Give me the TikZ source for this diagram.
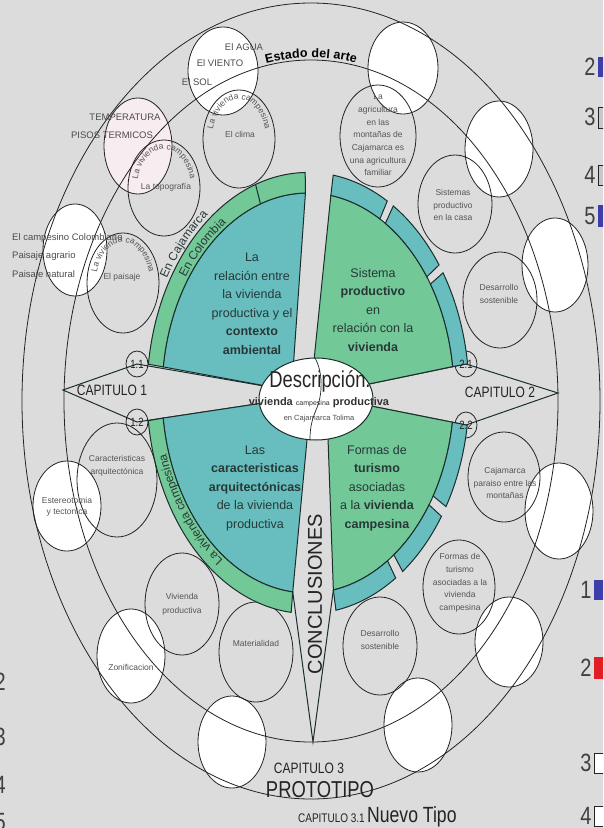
\documentclass[tikz,border=0pt]{standalone}
\usepackage{fontspec}
\setmainfont{Liberation Sans}
\newfontfamily\narrowf[FakeStretch=0.8]{Liberation Sans}
\usetikzlibrary{decorations.text}
\definecolor{bgc}{RGB}{220,220,220}
\definecolor{tealc}{RGB}{104,190,190}
\definecolor{greenc}{RGB}{114,200,150}
\definecolor{linec}{RGB}{35,35,35}
\definecolor{wlinec}{RGB}{28,45,45}
\definecolor{txtg}{RGB}{85,85,85}
\definecolor{txtd}{RGB}{40,56,56}
\definecolor{pinkc}{RGB}{247,236,239}
\definecolor{bluec}{RGB}{62,62,170}
\definecolor{redc}{RGB}{225,30,35}
\definecolor{boxg}{RGB}{200,200,200}
\newcommand{\fsz}[2]{\fontsize{#1}{#2}\selectfont}
\newcommand{\arcmsg}[5]{%
  \path[shift={(#1,#2)},decorate,decoration={text along path,text align=center,text color=txtg,
    text={|\fsz{8.5}{8.5}|#5}}]
    (192:#3 and #4) arc[start angle=192,end angle=-12,x radius=#3,y radius=#4];}
\newcommand{\blk}[2]{\path[wline,fill=tealc] (#1:146) arc[start angle=#1,end angle=#2,radius=146] -- (#2:161) arc[start angle=#2,end angle=#1,radius=161] -- cycle;}
\begin{document}
\begin{tikzpicture}[x=1pt,y=1pt,
  ring/.style={draw=linec,line width=0.8pt},
  wcirc/.style={draw=linec,fill=white,line width=0.8pt},
  gcirc/.style={draw=linec,line width=0.8pt},
  wline/.style={draw=wlinec,line width=1pt},
  ctext/.style={font=\fsz{8.5}{12.7},text=txtg,align=center,inner sep=0pt},
  otext/.style={font=\fsz{9.5}{11},text=black!70,inner sep=0pt},
  wtext/.style={font=\fsz{12.5}{18.5},text=txtd,align=center,inner sep=0pt},
  captext/.style={font=\narrowf\fsz{15}{15},text=linec,inner sep=0pt},
  numtext/.style={font=\narrowf\fsz{25}{25},text=black!75,inner sep=0pt},
]
\useasboundingbox (0,-828) rectangle (603,0);
\clip (0,-828) rectangle (603,0);
\fill[bgc] (0,-828) rectangle (603,0);

% ---------- white circles (outer band)
\foreach \cx/\cy/\rx/\ry in {223/71/35/44, 403/68/35/46, 499/149/34/48, 555/265/33/47,
   559/511/34/48, 509/642/34/45, 418/725/34/47, 232/742/34/46, 131/656/34/47,
   67/506/34/45, 75/250/32/46}
  \path[wcirc] (\cx,-\cy) ellipse [x radius=\rx,y radius=\ry];
\path[wcirc,fill=pinkc] (138,-146) ellipse [x radius=34,y radius=48];

% ---------- rings
\draw[ring] (311,-401) ellipse [x radius=289,y radius=398];
\draw[ring] (311,-401) ellipse [x radius=247,y radius=341];

% ---------- grey circles
\foreach \cx/\cy/\rx/\ry in {378/136/38/51, 455/204/37/49, 500/300/37/48, 504/477/36/45,
   459/587/36/47, 380/646/37/49, 256/652/37/50, 182/604/37/51, 117/480/40/57,
   123/283/36/50, 164/188/36/48, 239/139/36/49}
  \draw[gcirc] (\cx,-\cy) ellipse [x radius=\rx,y radius=\ry];

% ---------- kites
\coordinate (kc) at (316,-395);
\coordinate (k1a) at (63,-390);
\coordinate (c11) at (137,-364);
\coordinate (c12) at (137,-422);
\coordinate (k2a) at (558,-393);
\coordinate (c21) at (466,-364);
\coordinate (c22) at (466,-425);
\draw[wline] (kc) -- (c11) -- (k1a) -- (c12) -- (kc);
\draw[wline] (kc) -- (c21) -- (k2a) -- (c22) -- (kc);
\foreach \p in {c11,c12,c21,c22}
  \draw[gcirc] (\p) ellipse [x radius=11,y radius=13];

% ---------- wedge helper coordinates
\coordinate (a1) at (305,-195); \coordinate (a2) at (293,-370);
\coordinate (b1) at (331,-193); \coordinate (b2) at (313,-370);
\coordinate (d1) at (307,-440); \coordinate (d2) at (293,-590);
\coordinate (e1) at (328,-440); \coordinate (e2) at (333,-590);
\coordinate (tlc) at (intersection of a1--a2 and kc--c11);
\coordinate (trc) at (intersection of b1--b2 and kc--c21);
\coordinate (blc) at (intersection of d1--d2 and kc--c12);
\coordinate (brc) at (intersection of e1--e2 and kc--c22);
\coordinate (capex) at (313,-742);

\begin{scope}[shift={(308,-393)},y=1.37pt]
  % top-left
  \path[wline,fill=tealc] (tlc) -- (172.5:146) arc[start angle=172.5,end angle=91,radius=146] -- cycle;
  \path[wline,fill=greenc] (172.5:146) arc[start angle=172.5,end angle=91,radius=146] -- (91:161) arc[start angle=91,end angle=172.5,radius=161] -- cycle;
  \draw[wline] (109:146) -- (109:161);
  % top-right
  \path[wline,fill=greenc] (trc) -- (81:146) arc[start angle=81,end angle=7.6,radius=146] -- cycle;
  \blk{81}{60.5}\blk{58}{35.5}\blk{33}{7.6}
  % bottom-left
  \path[wline,fill=tealc] (blc) -- (187.2:146) arc[start angle=187.2,end angle=264,radius=146] -- cycle;
  \path[wline,fill=greenc] (187.2:146) arc[start angle=187.2,end angle=264,radius=146] -- (264:161) arc[start angle=264,end angle=187.2,radius=161] -- cycle;
  % bottom-right
  \path[wline,fill=greenc] (brc) -- (-80:146) arc[start angle=-80,end angle=-8.4,radius=146] -- cycle;
  \blk{-8.4}{-31}\blk{-34}{-54}\blk{-57}{-80}
  \coordinate (blk) at (264:146);
  \coordinate (brk) at (-80:146);
  % band texts
  \path[decorate,decoration={text along path,text align=center,text color=txtd,
     text={|\fsz{12}{12}|En Colombia}}] (150:148.5) arc[start angle=150,end angle=118,radius=148.5];
  \path[decorate,decoration={text along path,text align=center,text color=txtd,
     text={|\fsz{12}{12}|En Cajamarca}}] (155:164) arc[start angle=155,end angle=121,radius=164];
  \path[decorate,decoration={text along path,text align=center,text color=txtd,
     text={|\fsz{12}{12}|La vivienda campesina}}] (252:148.5) arc[start angle=252,end angle=184,radius=148.5];
\end{scope}

% conclusiones triangle
\draw[wline] (blk) -- (capex) -- (brk);

% ---------- central ellipse
\path[draw=wlinec,fill=white,line width=1pt] (316,-399) ellipse [x radius=57,y radius=41];
\draw[wlinec,line width=0.7pt] (315,-358) .. controls (323,-372) and (323,-395) .. (316,-410) .. controls (311,-422) and (310,-430) .. (310,-440);

% ---------- Estado del arte
\begin{scope}[shift={(311,-401)},y=1.38pt]
  \path[decorate,decoration={text along path,text align=center,raise=2.5pt,text color=black,
     text={|\fsz{12.5}{12.5}\bfseries|Estado del arte}}] (108:247) arc[start angle=108,end angle=72,radius=247];
\end{scope}

% ---------- curved texts in grey circles
\arcmsg{239}{-139}{27}{40}{La vivienda campesina}
\arcmsg{164}{-188}{27}{39}{La vivienda campesina}
\arcmsg{123}{-283}{27}{41}{La vivienda campesina}

% ---------- texts: outer white circles
\node[otext] (wa1) at (244,-47) {El AGUA};
\node[otext] (wa2) at (220,-63) {El VIENTO};
\node[otext] (wa3) at (197,-82) {El SOL};
\node[otext] (tp1) at (125,-117) {TEMPERATURA};
\node[otext] (tp2) at (112,-135) {PISOS TERMICOS};
\node[otext,anchor=west] (cp1) at (12,-238) {El campesino Colombiano};
\node[otext,anchor=west] (cp2) at (12,-256) {Paisaje agrario};
\node[otext,anchor=west] (cp3) at (12,-275) {Paisaje natural};
\node[ctext] (zon) at (131,-667) {Zonificacion};
\node[ctext,font=\fsz{8.5}{11}] (est) at (67,-507) {Estereotomia\\y tectonica};

% ---------- texts: grey circles
\node[ctext] (g1) at (378,-135) {La\\agricultura\\en las\\montañas de\\Cajamarca es\\una agricultura\\familiar};
\node[ctext] (g2) at (453,-205) {Sistemas\\productivo\\en la casa};
\node[ctext] (g3) at (499,-294) {Desarrollo\\sostenible};
\node[ctext] (g4) at (505,-483) {Cajamarca\\paraiso entre las\\montañas};
\node[ctext] (g5) at (460,-583) {Formas de\\turismo\\asociadas a la\\vivienda\\campesina};
\node[ctext] (g6) at (380,-640) {Desarrollo\\sostenible};
\node[ctext] (g7) at (256,-643) {Materialidad};
\node[ctext,font=\fsz{8.5}{14}] (g8) at (182,-604) {Vivienda\\productiva};
\node[ctext] (g9) at (117,-466) {Caracteristicas\\arquitectónica};
\node[ctext] (g10) at (122,-277) {El paisaje};
\node[ctext] (g11) at (166,-187) {La topografía};
\node[ctext] (g12) at (240,-134) {El clima};

% ---------- wedge texts
\node[wtext] (tl) at (252,-304) {La\\relación entre\\la vivienda\\productiva y el\\\textbf{contexto}\\\textbf{ambiental}};
\node[wtext] (tr) at (373,-310) {Sistema\\\textbf{productivo}\\en\\relación con la\\\textbf{vivienda}};
\node[wtext] (bl) at (255,-488) {Las\\\textbf{caracteristicas}\\\textbf{arquitectónicas}\\de la vivienda\\productiva};
\node[wtext] (br) at (377,-488) {Formas de\\\textbf{turismo}\\asociadas\\a la \textbf{vivienda}\\\textbf{campesina}};

% ---------- centre texts
\node[font=\narrowf\fsz{23}{23},text=black!85,inner sep=0pt] (desc) at (320,-381) {Descripción.};
\node[text=black!80,inner sep=0pt] (viv) at (319,-403) {\fsz{11}{11}\textbf{vivienda} {\fsz{7}{7}campesina} \textbf{productiva}};
\node[font=\fsz{7.5}{7.5},text=black!70,inner sep=0pt] (caj) at (319,-419) {en Cajamarca Tolima};

% ---------- chapter labels
\node[captext] (cap1) at (112,-390) {CAPITULO 1};
\node[captext] (cap2) at (500,-392) {CAPITULO 2};
\node[font=\narrowf\fsz{12}{12},text=linec,inner sep=0pt] (l11) at (c11) {1.1};
\node[font=\narrowf\fsz{12}{12},text=linec,inner sep=0pt] (l12) at (c12) {1.2};
\node[font=\narrowf\fsz{12}{12},text=linec,inner sep=0pt] (l21) at (c21) {2.1};
\node[font=\narrowf\fsz{12}{12},text=linec,inner sep=0pt] (l22) at (c22) {2.2};
\node[font=\fsz{20}{20},text=linec,rotate=90,inner sep=0pt] (concl) at (315,-594) {CONCLUSIONES};
\node[captext] (cap3) at (309,-768) {CAPITULO 3};
\node[font=\narrowf\fsz{23}{23},text=linec,inner sep=0pt] (proto) at (320,-790) {PROTOTIPO};
\node[font=\narrowf\fsz{12.5}{12.5},text=linec,inner sep=0pt,anchor=base east] (cap31) at (365,-822) {CAPITULO 3.1};
\node[font=\narrowf\fsz{22}{22},text=linec,inner sep=0pt,anchor=base west] (nuevo) at (367,-822) {Nuevo Tipo};

% ---------- right side legend fragments
\fill[bluec] (598,-57) rectangle (612,-77);
\path[draw=linec,fill=boxg,line width=0.8pt] (598,-107) rectangle (612,-128);
\path[draw=linec,fill=boxg,line width=0.8pt] (598,-165) rectangle (612,-185);
\fill[bluec] (598,-205) rectangle (612,-227);
\node[numtext] (r2) at (590,-67) {2};
\node[numtext] (r3) at (590,-117) {3};
\node[numtext] (r4) at (590,-175) {4};
\node[numtext] (r5) at (590,-216) {5};
\fill[bluec] (594,-580) rectangle (610,-600);
\fill[redc] (594,-657) rectangle (610,-679);
\path[draw=linec,fill=white,line width=0.8pt] (594,-753) rectangle (610,-773);
\path[draw=linec,fill=white,line width=0.8pt] (594,-806) rectangle (610,-826);
\node[numtext] (s1) at (586,-590) {1};
\node[numtext] (s2) at (586,-668) {2};
\node[numtext] (s3) at (586,-763) {3};
\node[numtext] (s4) at (586,-816) {4};

% ---------- left edge fragments
\node[numtext,anchor=east] (q2) at (6,-682) {2};
\node[numtext,anchor=east] (q3) at (6,-737) {3};
\node[numtext,anchor=east] (q4) at (6,-785) {4};
\node[numtext,anchor=east] (q5) at (6,-822) {5};
\end{tikzpicture}
\end{document}
